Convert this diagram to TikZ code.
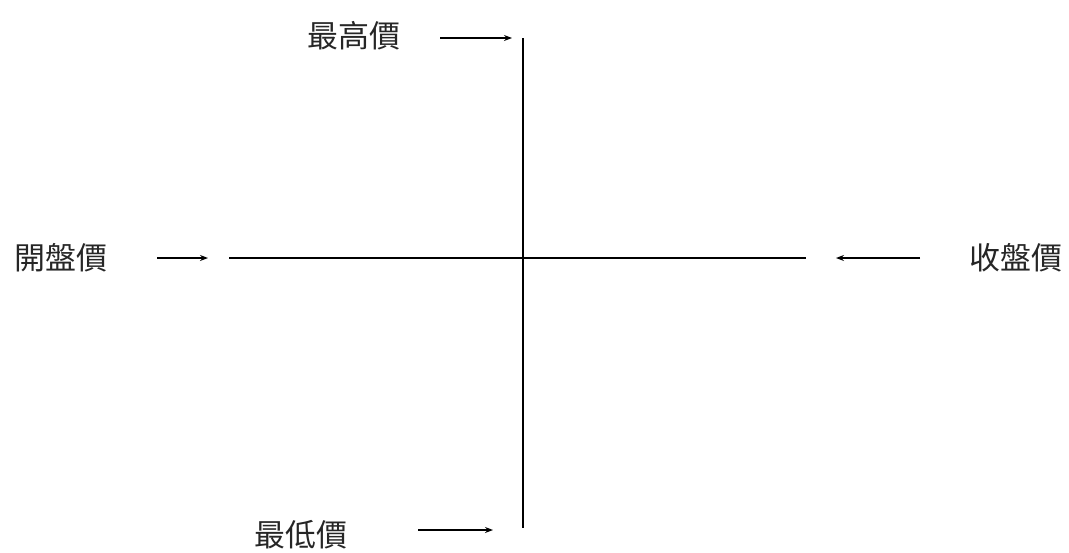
\documentclass[tikz,border=0pt]{standalone}
\usepackage{fontspec}
\newfontfamily\cjk{Noto Sans CJK TC}
\usetikzlibrary{arrows.meta}
\begin{document}
\begin{tikzpicture}[x=1pt,y=-1pt,
  lbl/.style={font=\cjk\fontsize{31}{31}\selectfont, text=black!85, inner sep=0pt, anchor=center},
  axis/.style={line width=1.3pt, black},
  pointer/.style={line width=1.3pt, black, -{Stealth[length=8pt,width=6pt]}}]
\useasboundingbox (0,0) rectangle (1069,552);
% axes
\coordinate (top) at (523,38);
\coordinate (bot) at (523,528);
\coordinate (lft) at (229,258);
\coordinate (rgt) at (806,258);
\draw[axis] (top) -- (bot);
\draw[axis] (lft) -- (rgt);
% labels
\node[lbl] (high) at (354,36) {最高價};
\node[lbl] (open) at (61,258) {開盤價};
\node[lbl] (close) at (1016,258) {收盤價};
\node[lbl] (low) at (301,535) {最低價};
% pointer arrows
\coordinate (hs) at (440,38); \coordinate (he) at (512,38);
\coordinate (os) at (157,258); \coordinate (oe) at (208,258);
\coordinate (cs) at (920,258); \coordinate (ce) at (836,258);
\coordinate (ls) at (418,530); \coordinate (le) at (493,530);
\draw[pointer] (hs) -- (he);
\draw[pointer] (os) -- (oe);
\draw[pointer] (cs) -- (ce);
\draw[pointer] (ls) -- (le);
\end{tikzpicture}
\end{document}
